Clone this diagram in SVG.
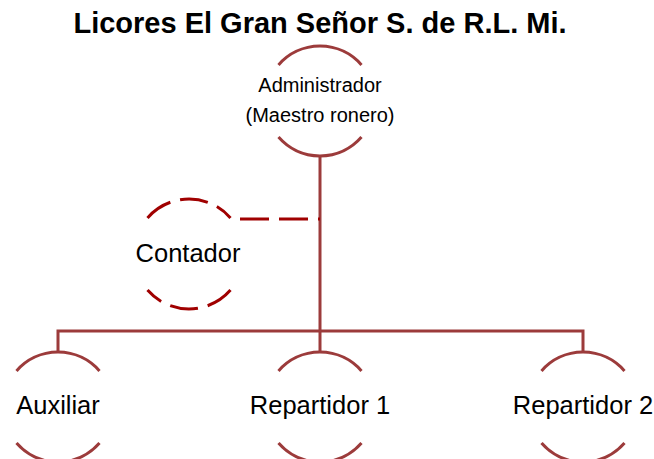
<svg xmlns="http://www.w3.org/2000/svg" width="654" height="459" viewBox="0 0 654 459">
  <style>
    .ring { fill: none; stroke: #9c3b3b; stroke-width: 3; }
    .ring-dash { fill: none; stroke: #a00000; stroke-width: 3; stroke-dasharray: 28 10; }
    .line { fill: none; stroke: #9c3b3b; stroke-width: 3; }
    .line-dash { fill: none; stroke: #a00000; stroke-width: 3; stroke-dasharray: 29 10; }
    .lbl { font-family: "Liberation Sans", Arial, sans-serif; fill: #000; text-anchor: middle; }
    .title { font-family: "Liberation Sans", Arial, sans-serif; font-weight: bold; font-size: 29px; fill: #000; text-anchor: middle; }
  </style>
  <rect width="654" height="459" fill="#ffffff"/>
  <text class="title" x="320" y="33">Licores El Gran Señor S. de R.L. Mi.</text>
  <g id="connectors">
    <path class="line" d="M320 156 V352"/>
    <path class="line" d="M58 352 V331 H583 V352"/>
    <path class="line-dash" d="M240 219 H320"/>
  </g>
  <g id="administrador">
    <path class="ring" d="M278.5 64.9 A55 55 0 0 1 361.5 64.9"/>
    <path class="ring" d="M361.5 137.1 A55 55 0 0 1 278.5 137.1"/>
    <text class="lbl" x="320" y="92" font-size="20">Administrador</text>
    <text class="lbl" x="320" y="122" font-size="20">(Maestro ronero)</text>
  </g>
  <g id="contador">
    <path class="ring-dash" d="M147.5 217.9 A55 55 0 0 1 230.5 217.9"/>
    <path class="ring-dash" d="M230.5 290.1 A55 55 0 0 1 147.5 290.1"/>
    <text class="lbl" x="188" y="262" font-size="25.5">Contador</text>
  </g>
  <g id="auxiliar">
    <path class="ring" d="M16.5 370.9 A55 55 0 0 1 99.5 370.9"/>
    <path class="ring" d="M99.5 443.1 A55 55 0 0 1 16.5 443.1"/>
    <text class="lbl" x="58" y="414" font-size="25.5">Auxiliar</text>
  </g>
  <g id="repartidor1">
    <path class="ring" d="M278.5 370.9 A55 55 0 0 1 361.5 370.9"/>
    <path class="ring" d="M361.5 443.1 A55 55 0 0 1 278.5 443.1"/>
    <text class="lbl" x="320" y="414" font-size="25.5">Repartidor 1</text>
  </g>
  <g id="repartidor2">
    <path class="ring" d="M541.5 370.9 A55 55 0 0 1 624.5 370.9"/>
    <path class="ring" d="M624.5 443.1 A55 55 0 0 1 541.5 443.1"/>
    <text class="lbl" x="583" y="414" font-size="25.5">Repartidor 2</text>
  </g>
</svg>
